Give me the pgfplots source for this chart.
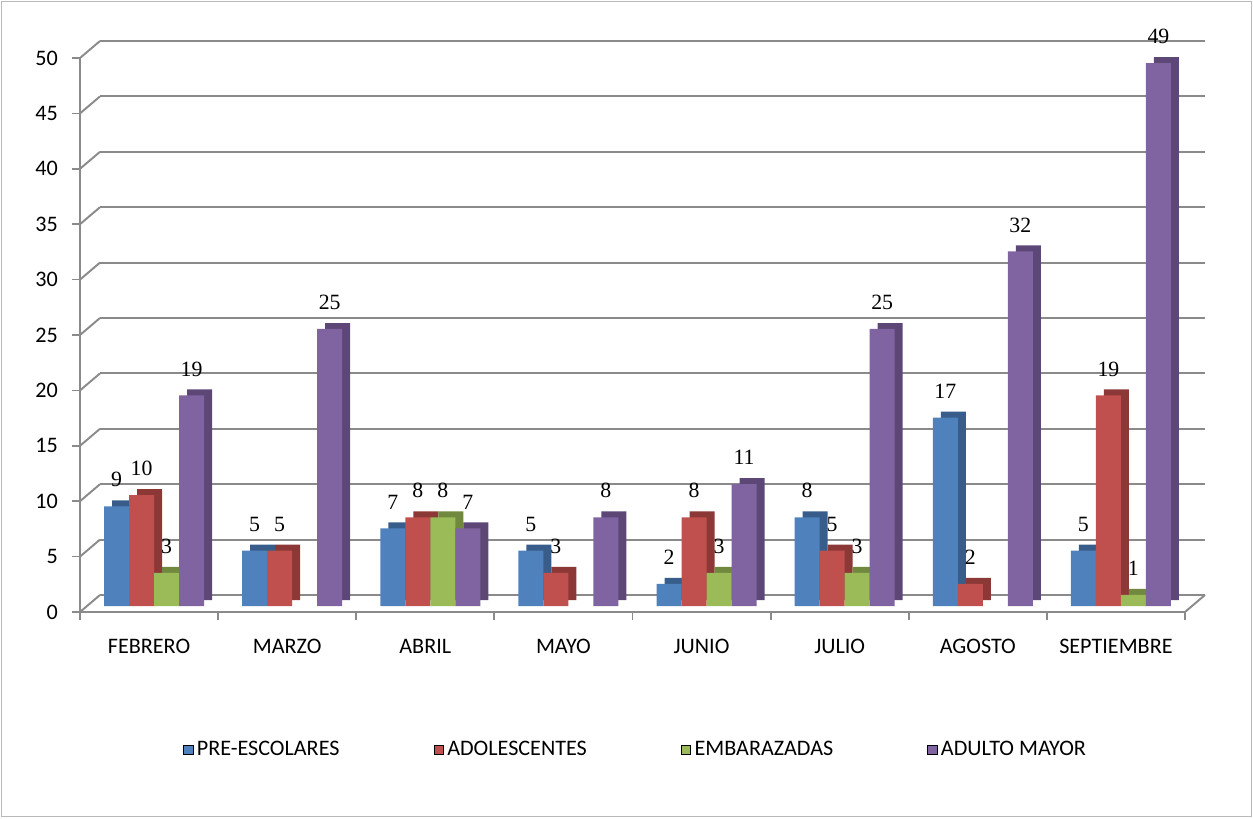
\documentclass[border=0pt]{standalone}
\usepackage{pgfplots}
\pgfplotsset{compat=1.18}
\usepackage{pgfplotstable}
\usepackage{fontspec}
\setmainfont{Carlito}
\newfontfamily\serifnum{Liberation Serif}
\newcommand\cf{\fontsize{12.6}{14}\selectfont}
\newcommand\vf{\serifnum\fontsize{12.4}{14}\selectfont}
\definecolor{cA}{HTML}{4F81BD}\definecolor{cAs}{HTML}{385D8A}
\definecolor{cB}{HTML}{C0504D}\definecolor{cBs}{HTML}{8C3836}
\definecolor{cC}{HTML}{9BBB59}\definecolor{cCs}{HTML}{71893F}
\definecolor{cD}{HTML}{8064A2}\definecolor{cDs}{HTML}{5C4776}
\definecolor{gridc}{HTML}{8A8A8A}

\pgfplotstableread{
x pre ado emb adu
0 9 10 3 19
1 5 5 nan 25
2 7 8 8 7
3 5 3 nan 8
4 2 8 3 11
5 8 5 3 25
6 17 2 nan 32
7 5 19 1 49
}\datatable

\pgfplotsset{
  common/.style={
    scale only axis, width=22.10cm, height=11.08cm,
    xmin=-0.5, xmax=7.5, ymin=0, ymax=50,
    anchor=south west, clip=false,
  },
  barax/.style={common, hide axis, ybar=0pt, bar width=0.5cm},
}

\begin{document}
\begin{tikzpicture}
\useasboundingbox (0,0) rectangle (25.06,16.36);
\draw[gray!55, line width=0.6pt] (0.03,0.03) rectangle (25.03,16.33);

% back wall grid
\begin{axis}[common, at={(2.00cm,4.46cm)},
  axis line style={draw=none}, xtick=\empty, ytick={0,5,...,50},
  yticklabels={}, major tick length=0pt,
  ymajorgrids, grid style={gridc, line width=1.1pt}]
\end{axis}

% bar side / top faces
\begin{axis}[barax, at={(1.86cm,4.36cm)}]
\addplot[fill=cAs, draw=none] table[x=x, y=pre] {\datatable};
\addplot[fill=cBs, draw=none] table[x=x, y=ado] {\datatable};
\addplot[fill=cCs, draw=none] table[x=x, y=emb] {\datatable};
\addplot[fill=cDs, draw=none] table[x=x, y=adu] {\datatable};
\end{axis}

% bar front faces
\begin{axis}[barax, at={(1.70cm,4.24cm)},
  nodes near coords,
  every node near coord/.append style={font=\vf, text=black, yshift=0.26cm},
  /pgf/number format/assume math mode=true]
\addplot[fill=cA, draw=none] table[x=x, y=pre] {\datatable};
\addplot[fill=cB, draw=none] table[x=x, y=ado] {\datatable};
\addplot[fill=cC, draw=none] table[x=x, y=emb] {\datatable};
\addplot[fill=cD, draw=none] table[x=x, y=adu] {\datatable};
\end{axis}

% main axis
\begin{axis}[common, at={(1.60cm,4.12cm)},
  axis lines*=left,
  axis line style={gridc, line width=1.1pt},
  tick style={gridc, line width=1pt},
  tick align=outside, major tick length=0.15cm,
  ytick={0,5,...,50},
  xtick={-0.5,0.5,...,7.5},
  x tick label as interval,
  xticklabels={FEBRERO,MARZO,ABRIL,MAYO,JUNIO,JULIO,AGOSTO,SEPTIEMBRE},
  xticklabel style={font=\cf, yshift=-0.27cm},
  yticklabel style={font=\cf, xshift=-0.17cm},
  /pgf/number format/assume math mode=true,
  legend columns=4,
  legend style={draw=none, fill=none, font=\cf, inner sep=0pt,
    at={(0.093,-0.249)}, anchor=west,
    /tikz/every even column/.append style={column sep=1.81cm}},
  legend image code/.code={\fill[#1] (0cm,-0.09cm) rectangle (0.19cm,0.09cm);},
]
\pgfplotsinvokeforeach{0,5,10,15,20,25,30,35,40,45,50}{
  \draw[gridc, line width=1.1pt] (axis cs:-0.5,#1) -- ++(0.40cm,0.34cm);
}
\draw[gridc, line width=1.1pt] (axis cs:7.5,0) -- ++(0.40cm,0.34cm);
\addlegendimage{fill=cA}\addlegendentry{PRE-ESCOLARES}
\addlegendimage{fill=cB}\addlegendentry{ADOLESCENTES}
\addlegendimage{fill=cC}\addlegendentry{EMBARAZADAS}
\addlegendimage{fill=cD}\addlegendentry{ADULTO MAYOR}
\end{axis}
\end{tikzpicture}
\end{document}
